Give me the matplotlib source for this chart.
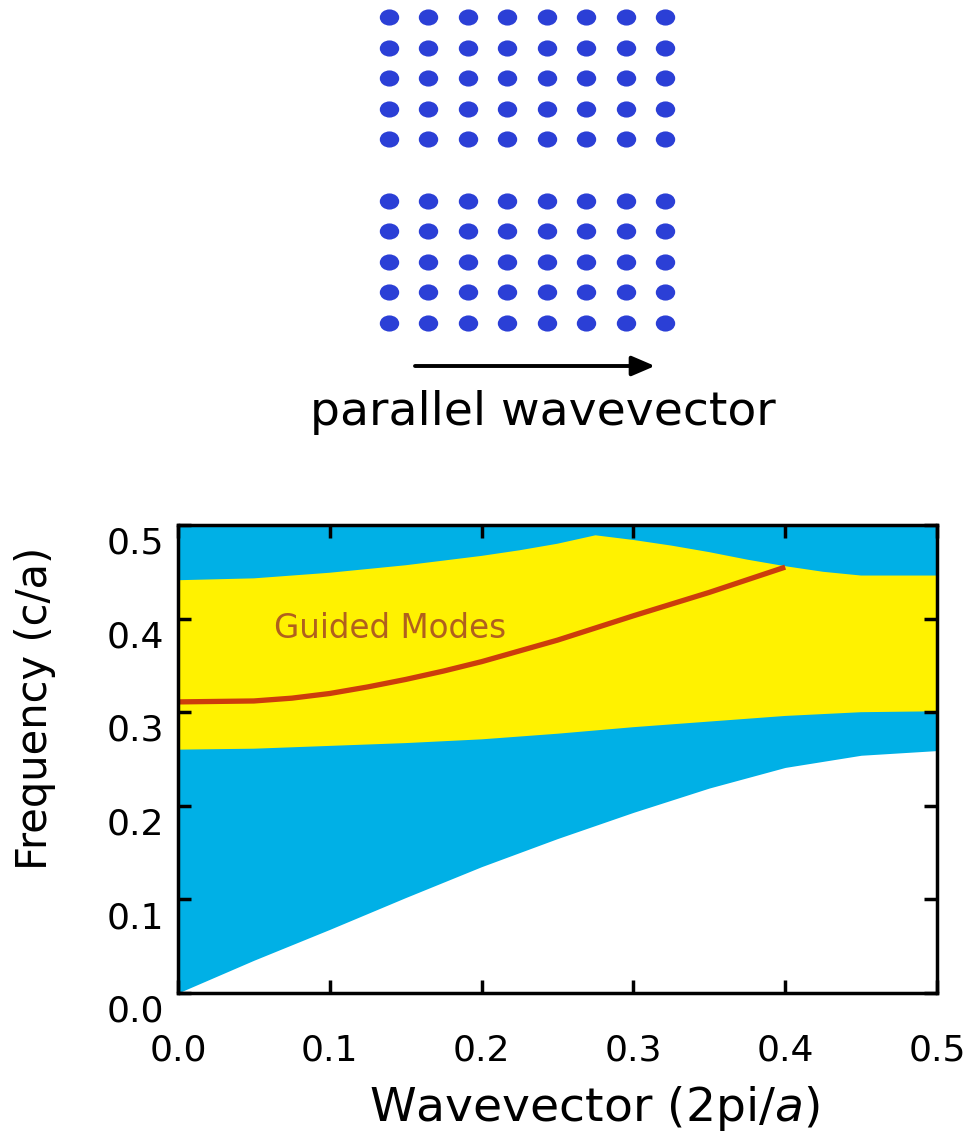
import matplotlib
matplotlib.use("Agg")
import matplotlib.pyplot as plt
from matplotlib.path import Path
from matplotlib.transforms import ScaledTranslation

# band edges (k in 2pi/a, frequency in c/a)
k_upper    = [0.0, 0.05, 0.10, 0.15, 0.20, 0.225, 0.25, 0.275, 0.30, 0.325, 0.35, 0.375, 0.40, 0.425, 0.45, 0.50]
upper_edge = [0.441, 0.443, 0.449, 0.457, 0.467, 0.473, 0.480, 0.489, 0.484, 0.478, 0.471, 0.463, 0.456, 0.450, 0.446, 0.446]

k_lower    = [0.0, 0.05, 0.10, 0.15, 0.20, 0.25, 0.30, 0.35, 0.40, 0.45, 0.50]
gap_bottom = [0.260, 0.261, 0.264, 0.267, 0.271, 0.277, 0.284, 0.290, 0.296, 0.300, 0.301]
light_line = [0.000, 0.035, 0.068, 0.102, 0.135, 0.165, 0.193, 0.219, 0.241, 0.254, 0.259]

k_guided = [0.0, 0.05, 0.075, 0.10, 0.125, 0.15, 0.175, 0.20, 0.25, 0.30, 0.35, 0.40]
guided   = [0.311, 0.312, 0.315, 0.320, 0.327, 0.335, 0.344, 0.354, 0.377, 0.403, 0.428, 0.455]

# rod lattice: 8 columns, 11 rows with the middle one removed (waveguide)
lattice_cols = [0, 1, 2, 3, 4, 5, 6, 7]
lattice_rows = [0, 1, 2, 3, 4, 6, 7, 8, 9, 10]

ticks = [0.0, 0.1, 0.2, 0.3, 0.4, 0.5]
tick_labels = ["0.0", "0.1", "0.2", "0.3", "0.4", "0.5"]

CYAN, YELLOW, RED, DOT = "#00b0e6", "#fff200", "#cc3d0c", "#2b3fd6"

plt.rcParams["font.family"] = ["DejaVu Sans"]
plt.rcParams["mathtext.fontset"] = "dejavusans"

W, H = 978, 1133
fig = plt.figure(figsize=(W / 100, H / 100), dpi=100)

# --- lattice sketch ---
lat = fig.add_axes([369 / W, (H - 338) / H, 316 / W, 336 / H])
lat.set_xlim(-0.5, 7.5); lat.set_ylim(10.5, -0.5); lat.axis("off")
circ = Path.unit_circle()
ellipse = Path(circ.vertices * [1.2, 1.0], circ.codes)
xs = [c for r in lattice_rows for c in lattice_cols]
ys = [r for r in lattice_rows for c in lattice_cols]
lat.scatter(xs, ys, s=195, marker=ellipse, color=DOT, linewidths=0)

lat.annotate("", xy=(655 / W, 1 - 366 / H), xytext=(415 / W, 1 - 366 / H),
             xycoords="figure fraction", textcoords="figure fraction",
             arrowprops=dict(arrowstyle="-|>,head_length=0.7,head_width=0.3",
                             lw=2.8, color="black", mutation_scale=20,
                             shrinkA=0, shrinkB=0))
fig.text(543 / W, 1 - 425 / H, "parallel wavevector", ha="center", va="baseline",
         fontsize=34)

# --- band diagram ---
ax = fig.add_axes([178 / W, 140 / H, 759 / W, 468 / H])
ax.set_facecolor(CYAN)
ax.fill(k_upper + k_lower[::-1], upper_edge + gap_bottom[::-1], color=YELLOW, lw=0)
ax.fill_between(k_lower, 0, light_line, color="white", lw=0)
ax.plot(k_guided, guided, color=RED, lw=3.8, solid_capstyle="butt")
ax.text(0.063, 0.379, "Guided Modes", color="#b0601e", fontsize=23.5, va="baseline")

ax.set_xlim(0, 0.5); ax.set_ylim(0, 0.5)
ax.set_xticks(ticks); ax.set_xticklabels(tick_labels)
ax.set_yticks(ticks); ax.set_yticklabels(tick_labels)
ax.tick_params(direction="in", length=9.5, width=2.5, top=True, right=True,
               labelsize=26, color="black")
ax.tick_params(axis="x", pad=29)
ax.tick_params(axis="y", pad=10)
for lbl in ax.get_yticklabels():
    lbl.set_transform(lbl.get_transform() + ScaledTranslation(0, -11 / 72, fig.dpi_scale_trans))
for sp in ax.spines.values():
    sp.set_linewidth(2.5)

fig.text(35 / W, 1 - 708 / H, "Frequency (c/a)", rotation=90, ha="center",
         va="center", fontsize=30)
fig.text(594 / W, 1 - 1121 / H, "Wavevector (2pi/$a$)", ha="center",
         va="baseline", fontsize=34)

fig.savefig("out.png", dpi=100)
